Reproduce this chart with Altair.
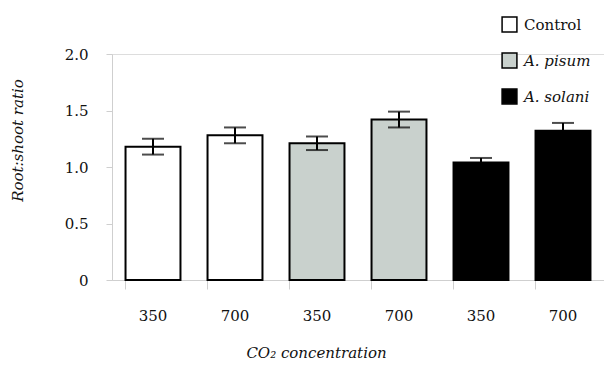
import altair as alt
import pandas as pd

groups = ["Control", "Control", "A. pisum", "A. pisum", "A. solani", "A. solani"]
co2 = ["350", "700", "350", "700", "350", "700"]
ratio = [1.18, 1.28, 1.21, 1.42, 1.04, 1.32]
err = [0.07, 0.07, 0.06, 0.07, 0.04, 0.07]
group_order = ["Control", "A. pisum", "A. solani"]
group_colors = ["#ffffff", "#c9d1cd", "#000000"]
y_ticks = [0, 0.5, 1.0, 1.5, 2.0]

df = pd.DataFrame({
    "group": groups,
    "co2": co2,
    "ratio": ratio,
    "err": err,
})
df["key"] = [f"{g}|{c}" for g, c in zip(groups, co2)]
df["lo"] = df["ratio"] - df["err"]
df["hi"] = df["ratio"] + df["err"]

FONT = "DejaVu Serif"
FS = 15
AX = "#cfcfcf"
TXT = "#111111"

x = alt.X(
    "key:N",
    sort=list(df["key"]),
    scale=alt.Scale(paddingInner=0.33, paddingOuter=0.165),
    axis=alt.Axis(
        title="CO\u2082 concentration",
        titleFont=FONT, titleFontStyle="italic", titleFontWeight="normal",
        titleFontSize=FS, titleColor=TXT,
        titleX=204, titleY=72, titleBaseline="middle",
        labelExpr="split(datum.label, '|')[1]",
        labelFont=FONT, labelFontSize=FS, labelColor=TXT,
        labelAngle=0, labelPadding=19,
        bandPosition=0, tickSize=9, tickColor=AX, domainColor=AX,
        grid=False,
    ),
)

y = alt.Y(
    "ratio:Q",
    scale=alt.Scale(domain=[0, 2]),
    axis=alt.Axis(
        title="Root:shoot ratio",
        titleFont=FONT, titleFontStyle="italic", titleFontWeight="normal",
        titleFontSize=FS, titleColor=TXT,
        titleX=-95, titleY=86, titleAngle=-90, titleAlign="center", titleBaseline="middle",
        values=y_ticks,
        labelExpr="datum.value == 0 ? '0' : format(datum.value, '.1f')",
        labelFont=FONT, labelFontSize=FS, labelColor=TXT, labelPadding=18,
        tickSize=6, tickColor=AX, domainColor=AX, grid=False,
    ),
)

bars = alt.Chart(df).mark_bar(stroke="black", strokeWidth=2).encode(
    x=x,
    y=y,
    fill=alt.Fill(
        "group:N",
        scale=alt.Scale(domain=group_order, range=group_colors),
        legend=alt.Legend(
            title=None, orient="none", legendX=389, legendY=-38,
            symbolType="square", symbolSize=220, symbolStrokeColor="black",
            symbolStrokeWidth=1.5, rowPadding=15,
            labelFont=FONT, labelFontSize=FS, labelColor=TXT, labelOffset=6,
            labelFontStyle={"expr": "datum.label == 'Control' ? 'normal' : 'italic'"},
        ),
    ),
)

rule = alt.Chart(df).mark_rule(color="black", strokeWidth=2).encode(
    x=alt.X("key:N", sort=list(df["key"])),
    y="lo:Q",
    y2="hi:Q",
)
cap_hi = alt.Chart(df).mark_tick(color="black", thickness=2, size=22).encode(
    x=alt.X("key:N", sort=list(df["key"])),
    y="hi:Q",
)
cap_lo = alt.Chart(df).mark_tick(color="black", thickness=2, size=22).encode(
    x=alt.X("key:N", sort=list(df["key"])),
    y="lo:Q",
)

chart = alt.layer(bars, rule, cap_hi, cap_lo).properties(
    width=492, height=226,
    autosize=alt.AutoSizeParams(type="none"),
    padding={"left": 112, "top": 54, "right": 0, "bottom": 87},
).configure_view(stroke=None).configure(background="white")

chart.save("out.html", embed_options={"renderer": "svg", "actions": False})
